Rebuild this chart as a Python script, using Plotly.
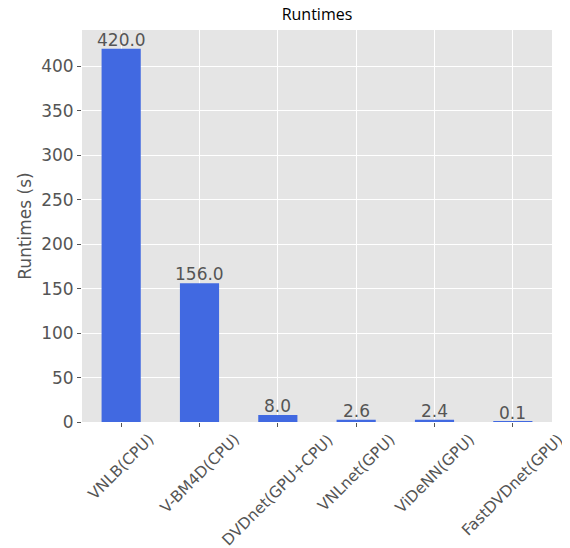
import plotly.graph_objects as go

methods = ["VNLB(CPU)", "V-BM4D(CPU)", "DVDnet(GPU+CPU)", "VNLnet(GPU)", "ViDeNN(GPU)", "FastDVDnet(GPU)"]
runtimes = [420.0, 156.0, 8.0, 2.6, 2.4, 0.1]
y_ticks = [0, 50, 100, 150, 200, 250, 300, 350, 400]

font = "DejaVu Sans"

fig = go.Figure(go.Bar(
    x=methods, y=runtimes, width=0.5,
    marker=dict(color="#4169E1", line=dict(width=0)),
    cliponaxis=False,
))

# value labels sitting right on top of each bar
for m, v in zip(methods, runtimes):
    fig.add_annotation(
        x=m, y=v, xref="x", yref="y", text=f"{v:.1f}", showarrow=False,
        xanchor="center", yanchor="bottom", yshift=-3,
        font=dict(family=font, size=17, color="#555555"),
    )

# rotated category labels centred under each tick (matplotlib-style)
for m in methods:
    fig.add_annotation(
        x=m, y=0, xref="x", yref="y", text=m, showarrow=False,
        textangle=-45, xanchor="center", yanchor="top", yshift=-6,
        font=dict(family=font, size=15.5, color="#555555"),
    )

# page body has an 8px default margin, so the figure is sized/offset accordingly
fig.update_layout(
    width=562, height=540,
    margin=dict(l=74, r=18, t=22, b=126),
    paper_bgcolor="white", plot_bgcolor="#E5E5E5",
    showlegend=False,
    title=dict(text="Runtimes", xref="paper", x=0.5, xanchor="center",
               yref="container", y=1.0, yanchor="top", pad=dict(t=1),
               font=dict(family="Open Sans", size=16, color="black")),
    font=dict(family=font),
)
fig.update_xaxes(
    range=[-0.5, 5.5], showgrid=True, gridcolor="white", gridwidth=1.2,
    ticks="outside", ticklen=4, tickcolor="#555555", showticklabels=False,
    showline=False, zeroline=False, automargin=False,
)
fig.update_yaxes(
    range=[0, 441], tickvals=y_ticks, showgrid=True, gridcolor="white", gridwidth=1.2,
    ticks="outside", ticklen=4, tickcolor="#555555",
    tickfont=dict(family=font, size=17, color="#555555"),
    title=dict(text="Runtimes (s)", font=dict(family=font, size=17, color="#555555"), standoff=5),
    showline=False, zeroline=False, automargin=False,
)

fig.write_html("out.html")
